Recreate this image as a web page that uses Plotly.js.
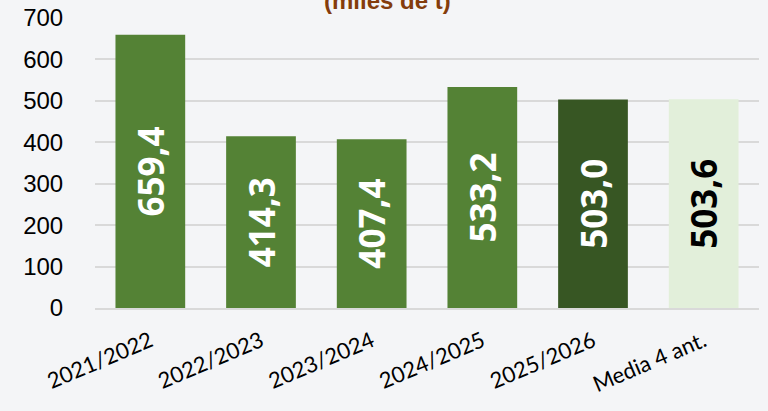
<!DOCTYPE html>
<html>
<head>
<meta charset="utf-8">
<script src="https://cdn.plot.ly/plotly-3.0.1.min.js"></script>
<style>
  html, body { margin: 0; padding: 0; background: #f4f5f7; }
  #chart { width: 768px; height: 411px; }
</style>
</head>
<body>
<div id="chart"></div>
<script>
// campañas y producción (miles de t)
const campaigns = ['2021/2022', '2022/2023', '2023/2024', '2024/2025', '2025/2026', 'Media 4 ant.'];
const production = [659.4, 414.3, 407.4, 533.2, 503.0, 503.6];
const barColors = ['#548235', '#548235', '#548235', '#548235', '#375623', '#e2efda'];
const labelColors = ['#ffffff', '#ffffff', '#ffffff', '#ffffff', '#ffffff', '#000000'];

// etiquetas con coma decimal
const labels = production.map(v => v.toFixed(1).replace('.', ','));

const data = [{
    type: 'bar',
    x: campaigns,
    y: production,
    marker: {color: barColors, line: {width: 0}},
    width: 0.63,
    text: labels,
    textposition: 'inside',
    insidetextanchor: 'middle',
    textangle: -90,
    textfont: {family: 'Open Sans', size: 35, color: labelColors, weight: 'bold'},
    hoverinfo: 'none'
}];

const layout = {
    width: 768,
    height: 411,
    margin: {l: 95, r: 9, t: 18, b: 103},
    paper_bgcolor: '#f4f5f7',
    plot_bgcolor: '#f4f5f7',
    showlegend: false,
    xaxis: {
        tickangle: -23,
        tickfont: {family: 'Lato', size: 22, color: '#000000'},
        showline: true,
        linecolor: '#d9d9d9',
        linewidth: 2,
        showgrid: false,
        ticks: 'outside',
        ticklen: 10,
        tickcolor: 'rgba(0,0,0,0)'
    },
    yaxis: {
        range: [0, 700],
        dtick: 100,
        tickfont: {family: 'Liberation Sans', size: 24, color: '#000000'},
        gridcolor: '#d9d9d9',
        gridwidth: 2,
        zeroline: false,
        ticks: 'outside',
        ticklen: 26,
        tickcolor: 'rgba(0,0,0,0)'
    },
    annotations: [{
        text: '(miles de t)',
        xref: 'paper', yref: 'paper',
        x: 0.44, y: 1,
        xanchor: 'center', yanchor: 'bottom',
        yshift: 2,
        showarrow: false,
        font: {family: 'Liberation Sans', size: 24, color: '#843c0c', weight: 'bold'}
    }]
};

Plotly.newPlot('chart', data, layout, {staticPlot: true});
</script>
</body>
</html>
